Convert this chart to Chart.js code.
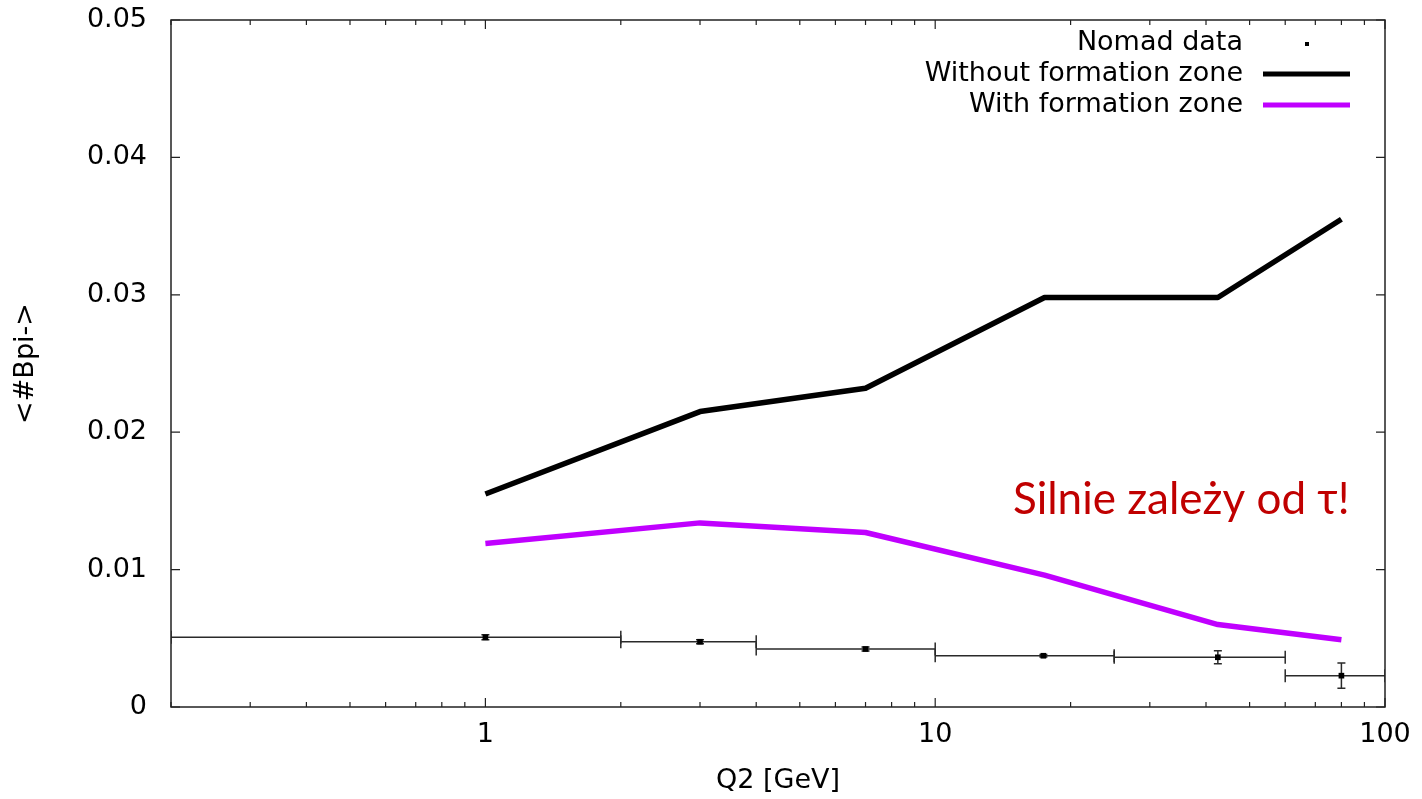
<!DOCTYPE html>
<html>
<head>
<meta charset="utf-8">
<script src="https://cdn.jsdelivr.net/npm/chart.js@4.4.1/dist/chart.umd.min.js"></script>
<style>
html,body{margin:0;padding:0;background:#fff;}
#wrap{width:1422px;height:799px;position:relative;}
</style>
</head>
<body>
<div id="wrap"><canvas id="c" width="1422" height="799"></canvas></div>
<script>
// ---- data ----
const q2 = [1, 3, 7, 17.5, 42.5, 80];
const withoutFZ = [0.0155, 0.0215, 0.0232, 0.0298, 0.0298, 0.0355];
const withFZ = [0.0119, 0.0134, 0.0127, 0.0096, 0.0060, 0.0049];
const nomadQ2 = [1, 3, 7, 17.4, 42.5, 80];
const nomadY = [0.00507, 0.00475, 0.00422, 0.00373, 0.00362, 0.00228];
const nomadYErr = [0.00018, 0.00015, 0.00015, 0.0001, 0.00048, 0.00092];
const nomadQ2Low = [0.2, 2, 4, 10, 25, 60];
const nomadQ2High = [2, 4, 10, 25, 60, 100];
const xTickLabels = [1, 10, 100];
const yTicks = [0, 0.01, 0.02, 0.03, 0.04, 0.05];
const seriesLabels = ['Nomad data', 'Without formation zone', 'With formation zone'];
const annotationText = 'Silnie zależy od τ!';
const xTitle = 'Q2 [GeV]';
const yTitle = '<#Bpi->';

const FONT = 'DejaVu Sans';
const PURPLE = '#c000ff';

const gnuplotPlugin = {
  id: 'gnuplotStyle',
  beforeDatasetsDraw(chart) {
    const ctx = chart.ctx, xs = chart.scales.x, ys = chart.scales.y, a = chart.chartArea;
    ctx.save();
    ctx.beginPath();
    ctx.rect(a.left, a.top, a.right - a.left, a.bottom - a.top);
    ctx.clip();
    ctx.strokeStyle = '#2a2a2a';
    ctx.lineWidth = 1.5;
    for (let i = 0; i < nomadQ2.length; i++) {
      const px = xs.getPixelForValue(nomadQ2[i]);
      const py = ys.getPixelForValue(nomadY[i]);
      const xl = xs.getPixelForValue(nomadQ2Low[i]);
      const xh = xs.getPixelForValue(nomadQ2High[i]);
      const yl = ys.getPixelForValue(nomadY[i] - nomadYErr[i]);
      const yh = ys.getPixelForValue(nomadY[i] + nomadYErr[i]);
      ctx.beginPath();
      ctx.moveTo(xl, py); ctx.lineTo(xh, py);
      ctx.moveTo(xl, py - 6.5); ctx.lineTo(xl, py + 6.5);
      ctx.moveTo(xh, py - 6.5); ctx.lineTo(xh, py + 6.5);
      ctx.moveTo(px, yl); ctx.lineTo(px, yh);
      ctx.moveTo(px - 4, yl); ctx.lineTo(px + 4, yl);
      ctx.moveTo(px - 4, yh); ctx.lineTo(px + 4, yh);
      ctx.stroke();
    }
    ctx.restore();
  },
  afterDraw(chart) {
    const ctx = chart.ctx, xs = chart.scales.x, ys = chart.scales.y, a = chart.chartArea;
    ctx.save();
    // frame
    ctx.strokeStyle = '#222';
    ctx.lineWidth = 1.5;
    ctx.strokeRect(a.left, a.top, a.right - a.left, a.bottom - a.top);
    // y ticks (inward, both sides)
    ctx.lineWidth = 1.2;
    ctx.beginPath();
    yTicks.forEach(v => {
      const py = ys.getPixelForValue(v);
      ctx.moveTo(a.left, py); ctx.lineTo(a.left + 9, py);
      ctx.moveTo(a.right, py); ctx.lineTo(a.right - 9, py);
    });
    // x ticks: major + minor, inward, bottom and top
    for (let dec = 0.1; dec < 100; dec *= 10) {
      for (let m = 1; m <= 9; m++) {
        const v = dec * m;
        if (v < xs.min - 1e-9 || v > xs.max + 1e-9) continue;
        const px = xs.getPixelForValue(v);
        const len = m === 1 ? 9 : 5;
        ctx.moveTo(px, a.bottom); ctx.lineTo(px, a.bottom - len);
        ctx.moveTo(px, a.top); ctx.lineTo(px, a.top + len);
      }
    }
    const pLast = xs.getPixelForValue(100);
    ctx.moveTo(pLast, a.bottom); ctx.lineTo(pLast, a.bottom - 9);
    ctx.moveTo(pLast, a.top); ctx.lineTo(pLast, a.top + 9);
    ctx.stroke();

    // legend
    ctx.font = '27px "' + FONT + '"';
    ctx.fillStyle = '#000';
    ctx.textAlign = 'right';
    ctx.textBaseline = 'middle';
    const ds = chart.data.datasets;
    const rows = [43, 74, 105];
    const textRight = 1243, sx0 = 1263, sx1 = 1350;
    ds.forEach((d, i) => {
      ctx.fillStyle = '#000';
      ctx.fillText(d.label, textRight, rows[i]);
      if (i === 0) {
        ctx.fillRect(1305, rows[i] - 1, 4, 4);
      } else {
        ctx.strokeStyle = d.borderColor;
        ctx.lineWidth = 5;
        ctx.beginPath();
        ctx.moveTo(sx0, rows[i]); ctx.lineTo(sx1, rows[i]);
        ctx.stroke();
      }
    });

    // annotation
    ctx.font = '44px Lato, "Open Sans", sans-serif';
    ctx.fillStyle = '#c00000';
    ctx.textAlign = 'left';
    ctx.textBaseline = 'alphabetic';
    ctx.fillText(annotationText, 1013, 514, 338);
    ctx.restore();
  }
};

new Chart(document.getElementById('c'), {
  type: 'scatter',
  data: {
    datasets: [
      {
        label: seriesLabels[0],
        data: nomadQ2.map((x, i) => ({x: x, y: nomadY[i]})),
        showLine: false,
        pointStyle: 'rect',
        pointRadius: 4,
        backgroundColor: '#000',
        borderColor: '#000',
        borderWidth: 0
      },
      {
        label: seriesLabels[1],
        data: q2.map((x, i) => ({x: x, y: withoutFZ[i]})),
        showLine: true,
        pointRadius: 0,
        borderColor: '#000',
        borderWidth: 5.5,
        borderJoinStyle: 'round',
        borderCapStyle: 'butt'
      },
      {
        label: seriesLabels[2],
        data: q2.map((x, i) => ({x: x, y: withFZ[i]})),
        showLine: true,
        pointRadius: 0,
        borderColor: PURPLE,
        borderWidth: 5.5,
        borderJoinStyle: 'round',
        borderCapStyle: 'butt'
      }
    ]
  },
  options: {
    responsive: false,
    animation: false,
    devicePixelRatio: 1,
    layout: {padding: {top: 20, right: 37, bottom: 0, left: 0}},
    plugins: {legend: {display: false}, tooltip: {enabled: false}},
    scales: {
      x: {
        type: 'logarithmic',
        min: 0.2,
        max: 100,
        afterBuildTicks(scale) { scale.ticks = xTickLabels.map(v => ({value: v})); },
        afterFit(scale) { scale.height = 92; scale.paddingLeft = 0; scale.paddingRight = 0; },
        grid: {display: false, drawTicks: false},
        border: {display: false},
        ticks: {
          autoSkip: false, maxRotation: 0, padding: 12, color: '#000',
          font: {family: FONT, size: 27},
          callback: v => String(v)
        },
        title: {display: true, text: xTitle, color: '#000', font: {family: FONT, size: 27}, padding: {top: 0, bottom: 2}}
      },
      y: {
        type: 'linear',
        min: 0,
        max: 0.05,
        afterBuildTicks(scale) { scale.ticks = yTicks.map(v => ({value: v})); },
        afterFit(scale) { scale.width = 171; scale.paddingTop = 0; scale.paddingBottom = 0; },
        grid: {display: false, drawTicks: false},
        border: {display: false},
        ticks: {
          padding: 24, color: '#000',
          font: {family: FONT, size: 27},
          callback: v => (v === 0 ? '0' : v.toFixed(2))
        },
        title: {display: true, text: yTitle, color: '#000', font: {family: FONT, size: 27}, padding: {top: 10, bottom: 0}}
      }
    }
  },
  plugins: [gnuplotPlugin]
});
</script>
</body>
</html>
